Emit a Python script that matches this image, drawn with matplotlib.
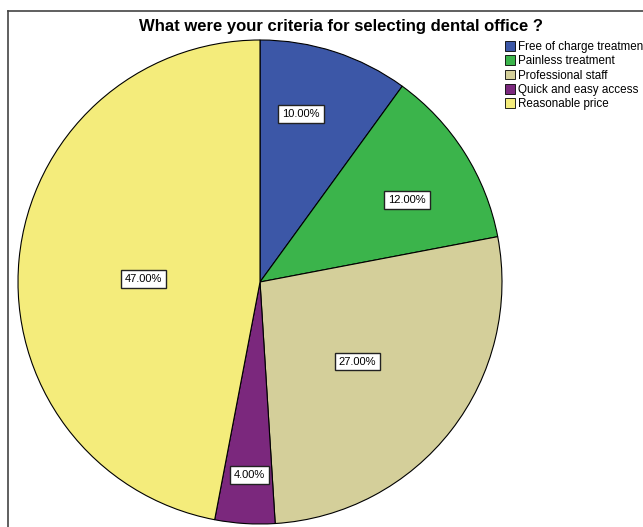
import numpy as np
import matplotlib
matplotlib.use("Agg")
import matplotlib.pyplot as plt
from matplotlib.patches import Patch
from matplotlib.lines import Line2D

plt.rcParams['font.family'] = ['Liberation Sans', 'DejaVu Sans']

# criteria for choosing a dental office (percent of answers)
categories = ["Free of charge treatment", "Painless treatment", "Professional staff",
              "Quick and easy access", "Reasonable price"]
percents = [10.0, 12.0, 27.0, 4.0, 47.0]
colors = ["#3C57A7", "#3BB44B", "#D4CF9A", "#7B287D", "#F4EC7B"]
# where each percent box sits: fraction of radius, and a nudge off the mid angle (deg)
label_r = [0.715, 0.695, 0.52, 0.80, 0.48]
label_nudge = [4.3, -3.2, -1.4, 0.6, 3.9]

W, H = 643, 527
fig = plt.figure(figsize=(W / 100, H / 100), dpi=100)

# pie area: centre (260, 282) px, radius 242 px
cx, cy, R = 260, 282, 242
ax = fig.add_axes([(cx - R) / W, (H - cy - R) / H, 2 * R / W, 2 * R / H])
wedges, _ = ax.pie(percents, colors=colors, startangle=90, counterclock=False,
                   radius=1.0, wedgeprops=dict(edgecolor="black", linewidth=0.8))
ax.set_xlim(-1, 1)
ax.set_ylim(-1, 1)
ax.set_aspect("equal")
ax.axis("off")

# percent boxes near the middle angle of each slice
for w, p, r, d in zip(wedges, percents, label_r, label_nudge):
    mid = np.deg2rad((w.theta1 + w.theta2) / 2 + d)
    ax.text(r * np.cos(mid), r * np.sin(mid), f"{p:.2f}%", ha="center", va="center",
            fontsize=8, color="black",
            bbox=dict(boxstyle="square,pad=0.35", facecolor="white",
                      edgecolor="#222222", linewidth=1.0))

fig.text(341 / W, 1 - 27 / H, "What were your criteria for selecting dental office ?",
         ha="center", va="center", fontsize=12, fontweight="bold")

handles = [Patch(facecolor=c, edgecolor="black", linewidth=0.6) for c in colors]
fig.legend(handles, categories, loc="upper left", bbox_to_anchor=(505 / W, 1 - 41 / H),
           frameon=False, fontsize=8.4, handlelength=0.85, handleheight=0.9,
           handletextpad=0.25, labelspacing=0.2, borderpad=0, borderaxespad=0)

# outer frame (top and left edges only are visible)
fig.add_artist(Line2D([7.5 / W, 1], [1 - 10.5 / H] * 2, transform=fig.transFigure,
                      color="#444444", linewidth=1.2))
fig.add_artist(Line2D([7.5 / W] * 2, [1 - 10.5 / H, 0], transform=fig.transFigure,
                      color="#444444", linewidth=1.2))

fig.savefig("out.png", dpi=100)
